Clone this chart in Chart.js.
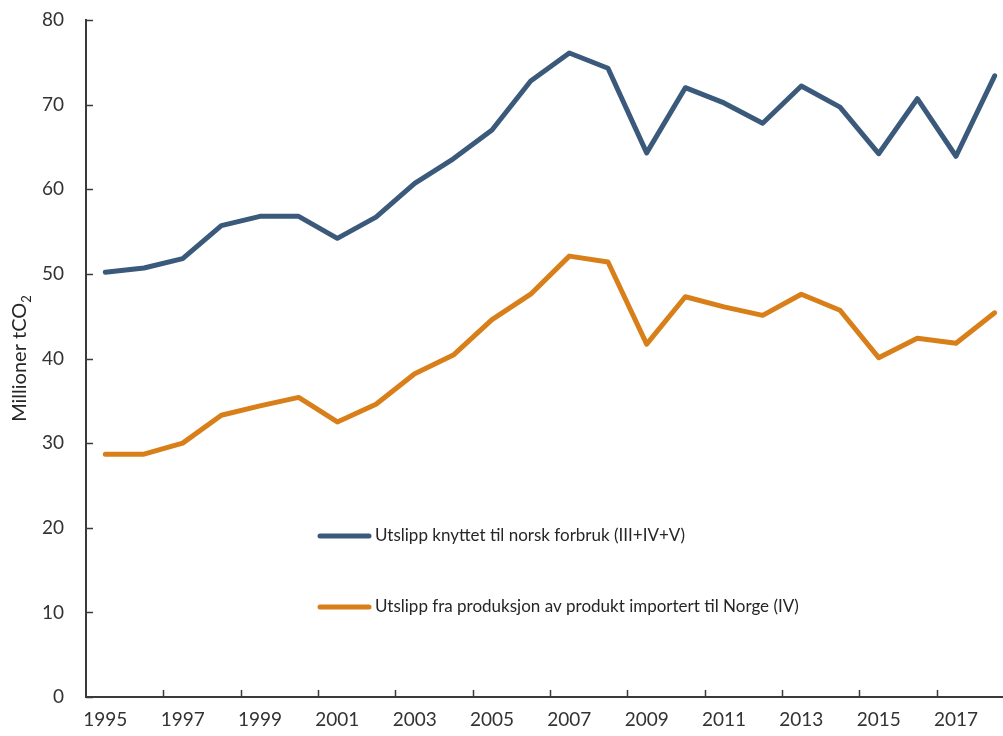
<!DOCTYPE html>
<html>
<head>
<meta charset="utf-8">
<script src="https://cdn.jsdelivr.net/npm/chart.js@4"></script>
<style>
  html, body { margin: 0; padding: 0; background: #fff; overflow: hidden; }
  #wrap { width: 1014px; height: 736px; }
</style>
</head>
<body>
<div id="wrap"><canvas id="chart" width="1014" height="736"></canvas></div>
<script>
const years = ['1995', '1996', '1997', '1998', '1999', '2000', '2001', '2002', '2003', '2004', '2005', '2006',
  '2007', '2008', '2009', '2010', '2011', '2012', '2013', '2014', '2015', '2016', '2017', '2018'];
const forbruk = [50.2, 50.7, 51.8, 55.7, 56.8, 56.8, 54.2, 56.7, 60.7, 63.6, 67.0, 72.8,
  76.1, 74.3, 64.3, 72.0, 70.2, 67.8, 72.2, 69.7, 64.2, 70.7, 63.9, 73.4];
const importert = [28.7, 28.7, 30.0, 33.3, 34.4, 35.4, 32.5, 34.6, 38.2, 40.4, 44.6, 47.6,
  52.1, 51.4, 41.7, 47.3, 46.1, 45.1, 47.6, 45.7, 40.1, 42.4, 41.8, 45.4];
const yTicks = [0, 10, 20, 30, 40, 50, 60, 70, 80];
const seriesNames = ['Utslipp knyttet til norsk forbruk (III+IV+V)', 'Utslipp fra produksjon av produkt importert til Norge (IV)'];

const BLUE = '#3b5a7b';
const ORANGE = '#d97f19';
const AXIS = '#3a3a3a';
const FONT = 'Lato, "Open Sans", sans-serif';

// Excel-style inside tick marks, legend inside the plot, y title with subscript
const decorations = {
  id: 'decorations',
  afterDraw(chart) {
    const ctx = chart.ctx;
    const x = chart.scales.x, y = chart.scales.y;
    const area = chart.chartArea;
    ctx.save();
    ctx.strokeStyle = AXIS;
    ctx.lineWidth = 1.5;
    yTicks.forEach(v => {
      const py = Math.round(y.getPixelForValue(v)) + 0.5;
      ctx.beginPath();
      ctx.moveTo(area.left, py);
      ctx.lineTo(area.left + 7, py);
      ctx.stroke();
    });
    for (let i = 2; i < years.length; i += 2) {
      const px = Math.round((x.getPixelForValue(i - 1) + x.getPixelForValue(i)) / 2) + 0.5;
      ctx.beginPath();
      ctx.moveTo(px, area.bottom);
      ctx.lineTo(px, area.bottom - 7);
      ctx.stroke();
    }

    // legend
    const rows = [536, 607];
    chart.data.datasets.forEach((ds, i) => {
      ctx.strokeStyle = ds.borderColor;
      ctx.lineWidth = 5;
      ctx.lineCap = 'round';
      ctx.beginPath();
      ctx.moveTo(320, rows[i]);
      ctx.lineTo(369, rows[i]);
      ctx.stroke();
      ctx.fillStyle = '#262626';
      ctx.font = '17px ' + FONT;
      ctx.textBaseline = 'middle';
      ctx.textAlign = 'left';
      ctx.fillText(ds.label, 375, rows[i]);
    });

    // y title
    ctx.translate(19, (area.top + area.bottom) / 2);
    ctx.rotate(-Math.PI / 2);
    ctx.fillStyle = '#262626';
    const main = 'Millioner tCO';
    ctx.font = '13px ' + FONT;
    const subW = ctx.measureText('2').width;
    ctx.font = '20px ' + FONT;
    const mainW = ctx.measureText(main).width;
    const start = -(mainW + subW) / 2;
    ctx.textBaseline = 'alphabetic';
    ctx.textAlign = 'left';
    ctx.fillText(main, start, 7);
    ctx.font = '13px ' + FONT;
    ctx.fillText('2', start + mainW, 12);
    ctx.restore();
  }
};

new Chart(document.getElementById('chart'), {
  type: 'line',
  data: {
    labels: years,
    datasets: [
      { label: seriesNames[0], data: forbruk, borderColor: BLUE, backgroundColor: BLUE },
      { label: seriesNames[1], data: importert, borderColor: ORANGE, backgroundColor: ORANGE }
    ]
  },
  options: {
    responsive: false,
    animation: false,
    layout: { padding: { top: 20, right: 0, left: 0, bottom: 0 } },
    elements: {
      line: { borderWidth: 5, tension: 0, borderJoinStyle: 'round', borderCapStyle: 'round' },
      point: { radius: 0, hoverRadius: 0 }
    },
    plugins: { legend: { display: false }, tooltip: { enabled: false } },
    scales: {
      x: {
        type: 'category',
        offset: true,
        grid: { display: false, drawTicks: false },
        border: { color: AXIS, width: 2 },
        ticks: {
          autoSkip: false,
          maxRotation: 0,
          padding: 11,
          color: '#333',
          font: { family: FONT, size: 19 },
          callback: (v, i) => (i % 2 === 0 ? years[i] : '')
        },
        afterFit: s => { s.height = 39; s.paddingLeft = 0; s.paddingRight = 0; }
      },
      y: {
        min: 0,
        max: 80,
        grid: { display: false, drawTicks: false },
        border: { color: AXIS, width: 2 },
        ticks: {
          stepSize: 10,
          padding: 22,
          color: '#333',
          font: { family: FONT, size: 19 }
        },
        afterFit: s => { s.width = 86; s.paddingTop = 0; s.paddingBottom = 0; }
      }
    }
  },
  plugins: [decorations]
});
</script>
</body>
</html>
